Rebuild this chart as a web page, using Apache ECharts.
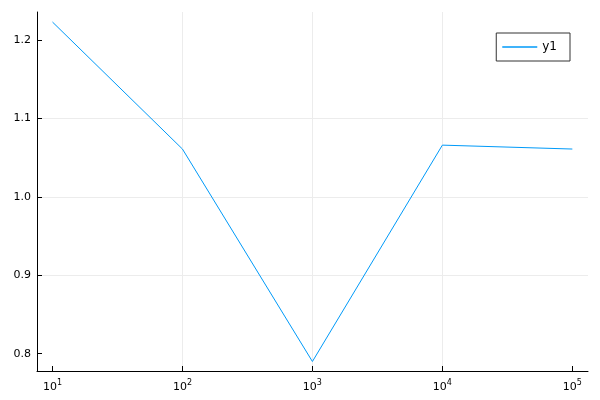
<!DOCTYPE html>
<html>
<head>
<meta charset="utf-8">
<script src="https://cdn.jsdelivr.net/npm/echarts@6/dist/echarts.min.js"></script>
<style>
  html, body { margin: 0; padding: 0; background: #fff; }
  #chart { width: 600px; height: 400px; }
</style>
</head>
<body>
<div id="chart"></div>
<script>
// data
var xValues = [10, 100, 1000, 10000, 100000];
var y1 = [1.223, 1.061, 0.790, 1.066, 1.061];
var xTicks = [10, 100, 1000, 10000, 100000];
var yTicks = [0.8, 0.9, 1.0, 1.1, 1.2];
var seriesName = "y1";

var chart = echarts.init(document.getElementById("chart"));
var FONT = "DejaVu Sans";

var option = {
  backgroundColor: "#fff",
  animation: false,
  grid: {
    left: 37,
    right: 12,
    top: 12,
    bottom: 29,
    containLabel: false,
  },
  legend: {
    data: [{ name: seriesName, icon: "rect" }],
    right: 30,
    top: 33,
    orient: "vertical",
    itemWidth: 35,
    itemHeight: 1.5,
    itemGap: 6,
    padding: [8, 13, 8, 6],
    borderColor: "#333",
    borderWidth: 1,
    backgroundColor: "#fff",
    itemStyle: { color: "#009af9" },
    textStyle: { fontFamily: FONT, fontSize: 12, color: "#000" },
  },
  xAxis: {
    type: "log",
    logBase: 10,
    min: 7.6,
    max: 132000,
    axisLine: { onZero: false, lineStyle: { color: "#000", width: 1 } },
    axisTick: {
      inside: true,
      length: 5,
      customValues: xTicks,
      lineStyle: { color: "#000" },
    },
    axisLabel: {
      customValues: xTicks,
      margin: 8,
      fontFamily: FONT,
      fontSize: 11,
      color: "#000",
      formatter: function (v) {
        var e = Math.round(Math.log10(v));
        return "10{sup|" + e + "}";
      },
      rich: {
        sup: { fontSize: 8, verticalAlign: "bottom", padding: [0, 0, 8, 0], fontFamily: FONT, color: "#000" },
      },
    },
    splitLine: {
      show: true,
      showMinLine: false,
      showMaxLine: false,
      lineStyle: { color: "#ececec", width: 1 },
    },
  },
  yAxis: {
    type: "value",
    min: 0.7779,
    max: 1.2358,
    axisLine: { onZero: false, lineStyle: { color: "#000", width: 1 } },
    axisTick: {
      inside: true,
      length: 5,
      customValues: yTicks,
      lineStyle: { color: "#000" },
    },
    axisLabel: {
      customValues: yTicks,
      margin: 6,
      fontFamily: FONT,
      fontSize: 11,
      color: "#000",
      formatter: function (v) {
        return v.toFixed(1);
      },
    },
    splitLine: {
      show: true,
      showMinLine: false,
      showMaxLine: false,
      lineStyle: { color: "#ececec", width: 1 },
    },
  },
  series: [
    {
      name: seriesName,
      type: "line",
      symbol: "none",
      lineStyle: { color: "#009af9", width: 1 },
      itemStyle: { color: "#009af9" },
      data: xValues.map(function (x, i) {
        return [x, y1[i]];
      }),
    },
  ],
};

chart.setOption(option);
</script>
</body>
</html>
